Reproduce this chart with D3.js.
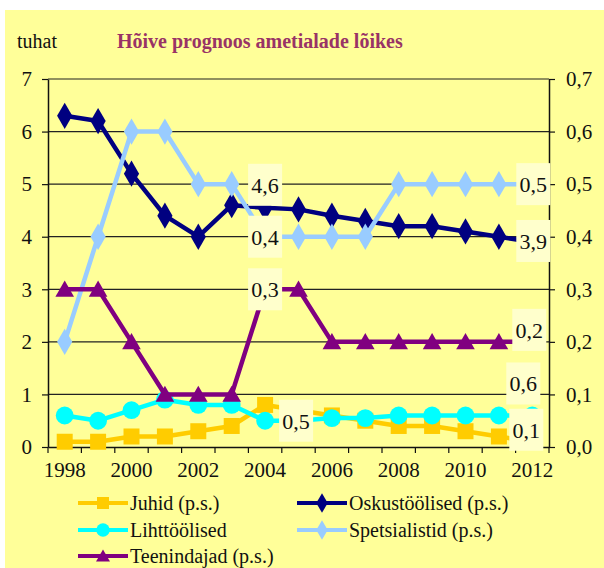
<!DOCTYPE html>
<html>
<head>
<meta charset="utf-8">
<script src="https://cdn.jsdelivr.net/npm/d3@7/dist/d3.min.js"></script>
<style>
  body { margin: 0; background: #fff; }
</style>
</head>
<body>
<svg id="chart" width="604" height="568" font-family="Liberation Serif"></svg>
<script>
'use strict';

// aastad (kategooriad)
var years = [1998, 1999, 2000, 2001, 2002, 2003, 2004, 2005, 2006, 2007, 2008, 2009, 2010, 2011, 2012];

// vasak skaala (tuhat)
var lihttoolised = [0.6, 0.5, 0.7, 0.9, 0.8, 0.8, 0.5, 0.5, 0.55, 0.55, 0.6, 0.6, 0.6, 0.6, 0.6];

// parem skaala (p.s.)
var juhid = [0.01, 0.01, 0.02, 0.02, 0.03, 0.04, 0.08, 0.07, 0.06, 0.05, 0.04, 0.04, 0.03, 0.02, 0.01];
var oskustoolised = [0.63, 0.62, 0.52, 0.44, 0.40, 0.46, 0.455, 0.452, 0.44, 0.43, 0.42, 0.42, 0.41, 0.40, 0.39];
var spetsialistid = [0.2, 0.4, 0.6, 0.6, 0.5, 0.5, 0.4, 0.4, 0.4, 0.4, 0.5, 0.5, 0.5, 0.5, 0.5];
var teenindajad = [0.3, 0.3, 0.2, 0.1, 0.1, 0.1, 0.3, 0.3, 0.2, 0.2, 0.2, 0.2, 0.2, 0.2, 0.2];

var leftTicks = [0, 1, 2, 3, 4, 5, 6, 7];
var rightTicks = [0, 0.1, 0.2, 0.3, 0.4, 0.5, 0.6, 0.7];
var yearLabels = [1998, 2000, 2002, 2004, 2006, 2008, 2010, 2012];

// andmesildid
var labelTexts = [
  { key: 'oskus', year: 2004, text: '4,6' },
  { key: 'spets', year: 2004, text: '0,4' },
  { key: 'teen', year: 2004, text: '0,3' },
  { key: 'liht', year: 2004, text: '0,5' },
  { key: 'spets', year: 2012, text: '0,5' },
  { key: 'oskus', year: 2012, text: '3,9' },
  { key: 'teen', year: 2012, text: '0,2' },
  { key: 'liht', year: 2012, text: '0,6' },
  { key: 'juhid', year: 2012, text: '0,1' }
];

var series = [
  { key: 'juhid', name: 'Juhid (p.s.)', values: juhid, axis: 'right', color: '#FFCC00', symbol: 'square' },
  { key: 'oskus', name: 'Oskustöölised (p.s.)', values: oskustoolised, axis: 'right', color: '#000080', symbol: 'diamond' },
  { key: 'liht', name: 'Lihttöölised', values: lihttoolised, axis: 'left', color: '#00FFFF', symbol: 'circle' },
  { key: 'spets', name: 'Spetsialistid (p.s.)', values: spetsialistid, axis: 'right', color: '#99CCFF', symbol: 'diamond' },
  { key: 'teen', name: 'Teenindajad (p.s.)', values: teenindajad, axis: 'right', color: '#800080', symbol: 'triangle' }
];

var FONT = 'Liberation Serif';
var margin = { left: 48, right: 549, top: 79, bottom: 447 };

var svg = d3.select('#chart');

svg.append('rect')
  .attr('x', 5).attr('y', 10)
  .attr('width', 599).attr('height', 558)
  .attr('fill', '#FFFF99');

var x = d3.scaleBand().domain(years).range([margin.left, margin.right]);
var cx = function (yr) { return x(yr) + x.bandwidth() / 2; };
var yL = d3.scaleLinear().domain([0, 7]).range([margin.bottom, margin.top]);
var yR = d3.scaleLinear().domain([0, 0.7]).range([margin.bottom, margin.top]);

function yOf(s, v) {
  return s.axis === 'left' ? yL(v) : yR(v);
}

// ruudustik
svg.append('g').selectAll('line')
  .data(leftTicks.slice(1))
  .enter().append('line')
  .attr('x1', margin.left).attr('x2', margin.right)
  .attr('y1', function (d) { return yL(d); })
  .attr('y2', function (d) { return yL(d); })
  .attr('stroke', '#222').attr('stroke-width', 1.2);

// teljed
var fmtR = function (d) { return d3.format('.1f')(d).replace('.', ','); };

var gL = svg.append('g')
  .attr('transform', 'translate(' + margin.left + ',0)')
  .call(d3.axisLeft(yL).tickValues(leftTicks).tickSize(6).tickSizeOuter(0).tickPadding(10).tickFormat(d3.format('d')));

var gR = svg.append('g')
  .attr('transform', 'translate(' + margin.right + ',0)')
  .call(d3.axisRight(yR).tickValues(rightTicks).tickSize(6).tickSizeOuter(0).tickPadding(11).tickFormat(fmtR));

var gX = svg.append('g')
  .attr('transform', 'translate(0,' + margin.bottom + ')')
  .call(d3.axisBottom(x).tickValues(yearLabels).tickSize(0).tickSizeOuter(0).tickPadding(15));

gX.selectAll('.tick line').remove();

// x-telje kriipsud kategooriate vahel
svg.append('g').selectAll('line')
  .data(years.concat(['end']))
  .enter().append('line')
  .attr('x1', function (d) { return d === 'end' ? margin.right : x(d); })
  .attr('x2', function (d) { return d === 'end' ? margin.right : x(d); })
  .attr('y1', margin.bottom).attr('y2', margin.bottom + 6)
  .attr('stroke', '#111').attr('stroke-width', 1.2);

[gL, gR, gX].forEach(function (g) {
  g.attr('font-family', FONT).attr('font-size', 21);
  g.selectAll('text').attr('fill', '#111').attr('font-family', FONT);
  g.select('.domain').attr('stroke', '#111').attr('stroke-width', 1.5);
  g.selectAll('.tick line').attr('stroke', '#111').attr('stroke-width', 1.2);
});

// markerid
var symbolTypes = {
  square: d3.symbolSquare,
  diamond: d3.symbolDiamond,
  circle: d3.symbolCircle,
  triangle: d3.symbolTriangle
};
var symbolSizes = { square: 256, diamond: 200, circle: 250, triangle: 150 };

function drawMarker(g, s, px, py, scale) {
  var k = scale || 1;
  var path = d3.symbol().type(symbolTypes[s.symbol]).size(symbolSizes[s.symbol] * k * k);
  var dy = s.symbol === 'triangle' ? 2 * k : 0;
  g.append('path')
    .attr('d', path())
    .attr('transform', 'translate(' + px + ',' + (py + dy) + ')')
    .attr('fill', s.color);
}

var line = d3.line();

series.forEach(function (s) {
  var pts = s.values.map(function (v, i) { return [cx(years[i]), yOf(s, v)]; });
  var g = svg.append('g').attr('class', 'series-' + s.key);
  g.append('path')
    .attr('d', line(pts))
    .attr('fill', 'none')
    .attr('stroke', s.color)
    .attr('stroke-width', 4.5)
    .attr('stroke-linejoin', 'round');
  pts.forEach(function (p) {
    drawMarker(g, s, p[0], p[1]);
  });
});

// sildid
var labelOffsets = {
  'oskus2004': [0, -23], 'spets2004': [0, 0], 'teen2004': [0, 0], 'liht2004': [31, 0],
  'spets2012': [1, 0], 'oskus2012': [1, -1], 'teen2012': [-3, -12], 'liht2012': [-9, -32], 'juhid2012': [-6, -12]
};
var boxW = 34, boxH = 42;

labelTexts.forEach(function (l) {
  var s = series.filter(function (d) { return d.key === l.key; })[0];
  var i = years.indexOf(l.year);
  var off = labelOffsets[l.key + l.year];
  var px = cx(l.year) + off[0];
  var py = yOf(s, s.values[i]) + off[1];
  svg.append('rect')
    .attr('x', px - boxW / 2).attr('y', py - boxH / 2)
    .attr('width', boxW).attr('height', boxH)
    .attr('fill', '#FFFFCC');
  svg.append('text')
    .attr('x', px).attr('y', py + 8)
    .attr('text-anchor', 'middle')
    .attr('font-family', FONT)
    .attr('font-size', 22)
    .attr('fill', '#111')
    .text(l.text);
});

// pealkiri
svg.append('text')
  .attr('x', 17).attr('y', 48)
  .attr('font-family', FONT)
  .attr('font-size', 20)
  .attr('fill', '#111')
  .text('tuhat');

svg.append('text')
  .attr('x', 117).attr('y', 48)
  .attr('font-family', FONT)
  .attr('font-size', 20)
  .attr('font-weight', 'bold')
  .attr('fill', '#993366')
  .text('Hõive prognoos ametialade lõikes');

// legend
var legendPos = [[78, 503], [297, 503], [78, 530], [297, 530], [78, 556]];

series.forEach(function (s, i) {
  var p = legendPos[i];
  var g = svg.append('g').attr('class', 'legend');
  g.append('line')
    .attr('x1', p[0]).attr('x2', p[0] + 50)
    .attr('y1', p[1]).attr('y2', p[1])
    .attr('stroke', s.color).attr('stroke-width', 4);
  drawMarker(g, s, p[0] + 25, p[1], 0.75);
  g.append('text')
    .attr('x', p[0] + 52).attr('y', p[1] + 7)
    .attr('font-family', FONT)
    .attr('font-size', 20)
    .attr('fill', '#111')
    .text(s.name);
});
</script>
</body>
</html>
